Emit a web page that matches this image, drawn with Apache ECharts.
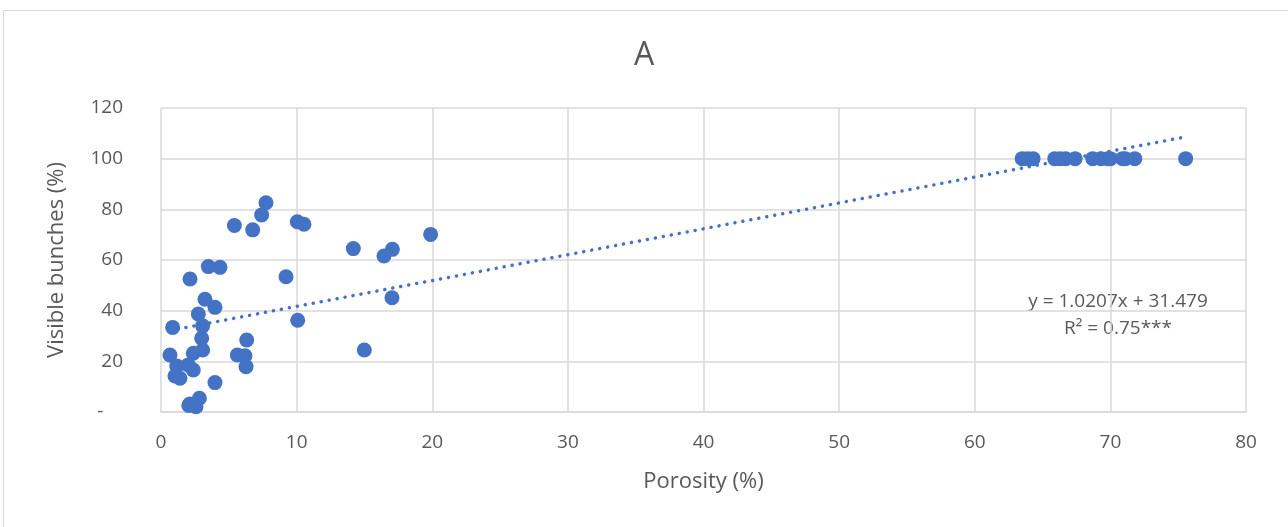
<!DOCTYPE html>
<html>
<head>
<meta charset="utf-8">
<script src="https://cdn.jsdelivr.net/npm/echarts@6/dist/echarts.min.js"></script>
<style>
  html, body { margin: 0; padding: 0; background: #fff; }
  #chart { width: 1288px; height: 527px; }
</style>
</head>
<body>
<div id="chart"></div>
<script>
// Porosity (%) of each sample
const porosity = [
  3.49, 4.35, 2.14, 9.22, 3.24, 3.98, 2.75, 0.86, 3.07, 10.08,
  3.0, 6.32, 3.07, 2.38, 0.66, 5.63, 6.19, 1.16, 2.01, 2.38,
  6.27, 1.03, 1.40, 3.98, 2.83, 2.14, 2.58, 2.05,
  7.74, 7.42, 5.41, 6.76, 10.05, 10.54, 14.18, 16.44, 17.06, 19.88,
  17.03, 14.99,
  63.5, 63.9, 64.3, 65.9, 66.3, 66.7, 67.4, 68.7, 69.3, 69.8, 70.0,
  70.9, 71.1, 71.8, 75.55
];
// Visible bunches (%) of each sample
const visible = [
  57.4, 57.1, 52.5, 53.4, 44.5, 41.3, 38.7, 33.4, 34.0, 36.2,
  29.1, 28.4, 24.5, 23.2, 22.5, 22.5, 22.2, 18.2, 18.6, 16.6,
  17.9, 14.2, 13.3, 11.6, 5.4, 3.2, 2.1, 2.6,
  82.6, 77.8, 73.6, 71.9, 75.1, 74.1, 64.5, 61.6, 64.2, 70.1,
  45.1, 24.5,
  100, 100, 100, 100, 100, 100, 100, 100, 100, 100, 100,
  100, 100, 100, 100
];
// Linear fit reported on the chart
const slope = 1.0207;
const intercept = 31.479;
const equationText = 'y = 1.0207x + 31.479';
const r2Text = 'R\u00B2 = 0.75***';
const xTicks = [0, 10, 20, 30, 40, 50, 60, 70, 80];
const yTicks = [0, 20, 40, 60, 80, 100, 120];

const points = porosity.map((x, i) => [x, visible[i]]);
const xMinData = Math.min(...porosity);
const xMaxData = Math.max(...porosity);
const trend = [
  [xMinData, slope * xMinData + intercept],
  [xMaxData, slope * xMaxData + intercept]
];

const blue = '#4472C4';
const textGray = '#595959';
const gridGray = '#d9d9d9';
const font = 'Open Sans';

const chart = echarts.init(document.getElementById('chart'), null, { renderer: 'canvas' });
chart.setOption({
  backgroundColor: '#fff',
  animation: false,
  title: {
    text: 'A',
    left: 'center',
    top: 35,
    textStyle: { color: textGray, fontSize: 32, fontWeight: 'normal', fontFamily: font }
  },
  grid: { left: 161, right: 42, top: 108, bottom: 115 },
  xAxis: {
    type: 'value',
    min: xTicks[0],
    max: xTicks[xTicks.length - 1],
    interval: 10,
    name: 'Porosity (%)',
    nameLocation: 'middle',
    nameGap: 59,
    nameTextStyle: { color: textGray, fontSize: 22, fontFamily: font },
    axisLine: { show: true, lineStyle: { color: gridGray, width: 1.5 } },
    axisTick: { show: false },
    axisLabel: { color: textGray, fontSize: 19, fontFamily: font, margin: 21 },
    splitLine: { show: true, lineStyle: { color: gridGray, width: 1.5 } }
  },
  yAxis: {
    type: 'value',
    min: yTicks[0],
    max: yTicks[yTicks.length - 1],
    interval: 20,
    name: 'Visible bunches (%)',
    nameLocation: 'middle',
    nameGap: 93,
    nameTextStyle: { color: textGray, fontSize: 22, fontFamily: font },
    axisLine: { show: false },
    axisTick: { show: false },
    axisLabel: {
      color: textGray, fontSize: 19, fontFamily: font, margin: 38,
      formatter: v => (v === 0 ? '-    ' : String(v))
    },
    splitLine: { show: true, lineStyle: { color: gridGray, width: 1.5 } }
  },
  series: [
    {
      type: 'line',
      data: trend,
      showSymbol: false,
      silent: true,
      lineStyle: { color: blue, width: 3.5, type: [0.1, 8], cap: 'round' },
      z: 2
    },
    {
      type: 'scatter',
      data: points,
      symbol: 'circle',
      symbolSize: 15,
      itemStyle: { color: blue, opacity: 1 },
      z: 3
    }
  ],
  graphic: [
    {
      type: 'rect',
      shape: { x: 3.5, y: 10.5, width: 1300, height: 530 },
      style: { fill: 'none', stroke: '#d9d9d9', lineWidth: 1 },
      silent: true
    },
    {
      type: 'text',
      x: 1118, y: 302,
      style: {
        text: equationText, fill: textGray, fontSize: 19, fontFamily: font,
        textAlign: 'center', textVerticalAlign: 'middle'
      }
    },
    {
      type: 'text',
      x: 1118, y: 329,
      style: {
        text: r2Text, fill: textGray, fontSize: 19, fontFamily: font,
        textAlign: 'center', textVerticalAlign: 'middle'
      }
    }
  ]
});
</script>
</body>
</html>
